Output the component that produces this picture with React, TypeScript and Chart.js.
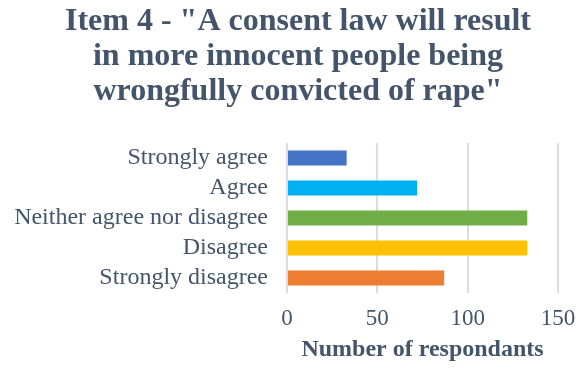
import React, { useEffect, useRef } from "react";
import { Chart, registerables } from "chart.js";

Chart.register(...registerables);

const categories = ["Strongly agree", "Agree", "Neither agree nor disagree", "Disagree", "Strongly disagree"];
const values = [33, 72, 133, 133, 87];
const barColors = ["#4472C4", "#00B0F0", "#70AD47", "#FFC000", "#ED7D31"];
const titleLines = ['Item 4 - "A consent law will result', "in more innocent people being", 'wrongfully convicted of rape"'];
const xAxisTitle = "Number of respondants";
const xTicks = [0, 50, 100, 150];

const TEXT = "#44546A";
const FONT = "'Liberation Serif', 'Times New Roman', serif";

export default function App() {
  const ref = useRef<HTMLCanvasElement | null>(null);
  useEffect(() => {
    document.body.style.margin = "0";
    const canvas = ref.current!;
    const chart = new Chart(canvas, {
      type: "bar",
      data: {
        labels: categories,
        datasets: [
          {
            data: values,
            backgroundColor: (c: any) => {
              const i = c.dataIndex;
              if (i === 0 && c.chart.chartArea) {
                const el = c.element;
                const { ctx } = c.chart;
                if (el && typeof el.y === "number") {
                  const h = el.height || 15;
                  const g = ctx.createLinearGradient(0, el.y - h / 2, 0, el.y + h / 2);
                  g.addColorStop(0, "#5F86D2");
                  g.addColorStop(1, "#2F62BE");
                  return g;
                }
              }
              return barColors[i];
            },
            categoryPercentage: 1,
            barPercentage: 0.5,
          },
        ],
      },
      options: {
        indexAxis: "y",
        responsive: false,
        animation: false,
        layout: { padding: { left: 13, right: 0, top: 0, bottom: 0 } },
        plugins: {
          legend: { display: false },
          tooltip: { enabled: false },
          title: {
            display: true,
            text: titleLines,
            color: TEXT,
            font: { family: FONT, size: 32, weight: "bold", lineHeight: 35 / 32 },
            padding: { top: 4, bottom: 34 },
          },
        },
        scales: {
          x: {
            min: 0,
            max: 150,
            afterBuildTicks: (axis: any) => {
              axis.ticks = xTicks.map((v) => ({ value: v }));
            },
            afterFit: (axis: any) => {
              axis.height = 76;
              axis.paddingRight = 25;
              axis.paddingLeft = 0;
            },
            grid: { color: "#D9DCE3", lineWidth: 2, drawTicks: false },
            border: { display: false },
            ticks: { color: TEXT, font: { family: FONT, size: 23, lineHeight: 1.0 }, padding: 14 },
            title: {
              display: true,
              text: xAxisTitle,
              color: TEXT,
              font: { family: FONT, size: 24, weight: "bold", lineHeight: 1.0 },
              padding: { top: 0, bottom: 7 },
            },
          },
          y: {
            afterFit: (axis: any) => {
              axis.width = 274;
            },
            grid: { display: false, drawTicks: false },
            border: { display: false },
            ticks: { color: TEXT, font: { family: FONT, size: 24 }, padding: 19, autoSkip: false },
          },
        },
      },
    } as any);
    return () => chart.destroy();
  }, []);
  return (
    <div style={{ width: 583, height: 369 }}>
      <canvas ref={ref} width={583} height={369} style={{ display: "block" }} />
    </div>
  );
}
